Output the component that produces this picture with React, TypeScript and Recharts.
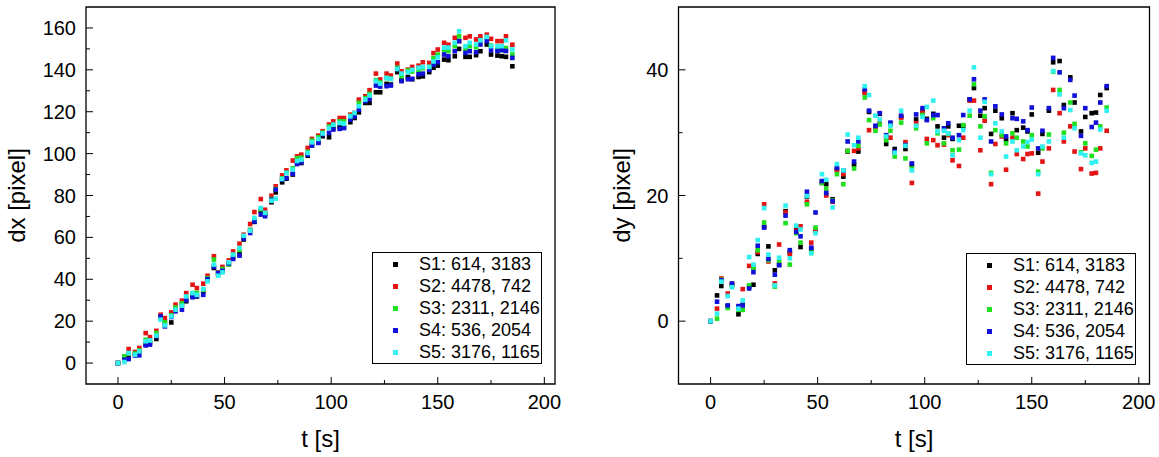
import React from 'react'
import { ScatterChart, Scatter, XAxis, YAxis, ReferenceArea, Legend, Label } from 'recharts'

const times = [0, 3, 5, 8, 10, 13, 15, 18, 20, 22, 25, 27, 30, 32, 35, 37, 40, 42, 45, 47, 49, 52, 54, 57, 59, 62, 64, 67, 69, 72, 74, 77, 79, 82, 84, 86, 89, 91, 94, 96, 99, 101, 104, 106, 109, 111, 113, 116, 118, 121, 123, 126, 128, 131, 133, 136, 138, 141, 143, 146, 148, 150, 153, 155, 158, 160, 163, 165, 168, 170, 173, 175, 178, 180, 182, 185]

const seriesNames = ['S1: 614, 3183', 'S2: 4478, 742', 'S3: 2311, 2146', 'S4: 536, 2054', 'S5: 3176, 1165']
const seriesColors = ['#000000', '#e31414', '#1fe01f', '#1010d8', '#30f0f0']

// dx [pixel]
const dxS1 = [0, 2.4, 4.0, 4.4, 5.5, 8.8, 9.5, 11.5, 22.0, 19.8, 19.4, 26.0, 28.0, 29.5, 32.2, 31.8, 34.0, 40.1, 45.4, 42.8, 44.5, 47.3, 50.5, 52.0, 59.0, 63.5, 67.4, 72.5, 71.0, 76.8, 81.5, 86.3, 88.0, 90.0, 95.9, 95.5, 99.0, 104.3, 105.5, 108.3, 107.8, 112.0, 112.8, 112.5, 115.0, 117.0, 119.7, 124.2, 124.2, 129.3, 129.3, 133.3, 133.0, 138.9, 135.0, 136.6, 135.5, 136.6, 136.9, 138.9, 141.0, 142.0, 144.9, 144.6, 146.5, 150.0, 146.2, 146.2, 147.0, 148.9, 152.1, 147.3, 146.8, 146.5, 146.2, 141.7]
const dxS2 = [0, 3.0, 6.7, 5.3, 7.2, 14.3, 12.4, 15.4, 23.1, 21.5, 24.2, 27.9, 29.8, 33.4, 37.4, 35.8, 37.9, 41.7, 51.0, 43.3, 45.9, 49.0, 53.3, 57.0, 61.3, 66.4, 72.1, 78.3, 73.2, 79.9, 84.4, 89.6, 92.0, 96.7, 98.7, 99.5, 102.7, 107.0, 108.6, 110.7, 113.9, 115.4, 117.0, 117.0, 118.6, 119.4, 125.8, 127.4, 130.3, 138.2, 135.4, 138.2, 137.3, 143.0, 139.3, 140.1, 141.4, 142.0, 143.6, 143.3, 148.0, 149.7, 152.9, 152.0, 155.3, 153.7, 155.3, 156.0, 154.5, 156.0, 156.8, 154.8, 153.7, 153.7, 156.0, 152.0]
const dxS3 = [0, 3.2, 4.5, 4.6, 6.0, 11.1, 10.5, 14.3, 21.5, 19.4, 22.8, 26.5, 28.5, 31.5, 33.4, 33.5, 35.0, 40.5, 49.4, 43.0, 44.9, 47.0, 51.5, 54.0, 60.5, 63.5, 68.0, 73.5, 71.5, 78.3, 83.0, 88.2, 90.8, 93.0, 97.8, 98.0, 100.8, 106.2, 107.8, 110.0, 112.9, 113.5, 115.4, 115.4, 118.0, 118.6, 124.2, 126.5, 128.5, 135.1, 134.0, 136.1, 135.7, 141.0, 136.9, 139.7, 139.2, 139.7, 140.8, 141.4, 145.6, 147.3, 149.4, 149.0, 151.3, 156.0, 150.0, 151.3, 150.8, 154.1, 155.3, 151.6, 149.7, 149.4, 150.4, 147.3]
const dxS4 = [0, 1.6, 1.9, 3.6, 3.7, 8.4, 8.8, 12.8, 22.3, 17.5, 22.0, 24.7, 25.5, 30.0, 31.4, 32.0, 32.6, 40.0, 46.0, 43.0, 44.0, 47.6, 49.7, 51.3, 59.4, 62.1, 67.6, 70.9, 70.1, 78.0, 82.8, 87.6, 88.3, 90.4, 95.0, 95.9, 99.5, 103.8, 105.1, 109.2, 109.9, 111.5, 111.8, 112.2, 116.2, 117.8, 121.0, 125.0, 126.0, 132.5, 132.0, 132.2, 132.5, 140.4, 134.6, 135.5, 135.7, 137.9, 138.2, 140.0, 142.5, 143.6, 147.3, 146.5, 148.9, 153.7, 148.1, 148.9, 148.4, 152.1, 153.7, 149.4, 149.0, 149.4, 149.0, 145.7]
const dxS5 = [0, 0.5, 4.8, 4.0, 5.6, 10.4, 10.8, 13.1, 20.7, 18.0, 22.3, 25.5, 27.4, 31.8, 33.4, 32.6, 35.4, 39.0, 47.0, 41.7, 43.3, 48.1, 51.8, 55.0, 60.8, 63.2, 69.3, 74.0, 71.7, 77.5, 78.5, 87.9, 90.8, 92.4, 96.5, 97.1, 100.3, 105.4, 107.0, 109.6, 112.3, 113.9, 114.6, 114.3, 117.8, 119.4, 122.6, 125.8, 127.7, 134.6, 133.4, 136.1, 135.7, 140.4, 138.2, 138.9, 140.0, 141.0, 141.4, 141.4, 144.0, 146.0, 150.6, 150.6, 152.9, 158.4, 151.3, 152.9, 152.1, 154.1, 155.7, 151.3, 151.3, 151.3, 154.1, 149.7]

// dy [pixel]
const dyS1 = [0, 4.1, 5.6, 2.4, 5.8, 1.1, 2.6, 5.5, 5.8, 10.7, 15.0, 11.9, 8.1, 9.0, 17.5, 10.9, 14.7, 11.8, 19.8, 11.5, 14.4, 22.0, 21.8, 19.4, 24.2, 23.0, 27.0, 24.9, 27.0, 36.5, 33.3, 31.0, 33.0, 28.2, 31.4, 27.4, 32.5, 27.4, 24.9, 32.1, 33.5, 32.2, 33.0, 31.0, 29.2, 31.0, 29.0, 31.1, 31.0, 35.3, 37.1, 32.7, 33.9, 29.8, 33.5, 32.3, 28.9, 33.1, 30.4, 30.8, 30.2, 32.9, 26.8, 29.8, 33.5, 41.2, 41.4, 34.4, 38.8, 34.8, 30.2, 32.5, 33.1, 33.2, 36.0, 37.1]
const dyS2 = [0, 2.0, 6.8, 4.4, 5.9, 2.2, 5.1, 8.8, 8.6, 11.0, 18.6, 9.5, 6.0, 12.2, 17.3, 10.7, 14.4, 15.1, 19.0, 12.5, 14.5, 22.2, 20.0, 19.0, 24.0, 23.4, 27.1, 27.1, 27.5, 36.3, 30.4, 30.8, 31.5, 29.1, 29.2, 26.8, 32.4, 28.5, 22.0, 31.5, 33.2, 29.0, 28.8, 28.0, 28.1, 29.6, 25.6, 24.7, 29.2, 35.1, 35.1, 27.2, 31.9, 21.8, 28.2, 29.4, 24.1, 29.2, 26.6, 25.8, 26.6, 26.7, 20.3, 25.4, 27.5, 36.8, 33.1, 28.6, 31.0, 27.0, 24.2, 27.5, 23.5, 23.6, 27.5, 30.3]
const dyS3 = [0, 0.4, 6.6, 2.1, 5.6, 1.8, 1.8, 5.7, 8.4, 11.3, 15.7, 9.7, 5.5, 9.5, 15.6, 9.0, 14.0, 12.5, 18.6, 10.9, 14.9, 22.0, 21.1, 19.2, 23.4, 21.8, 27.1, 24.3, 27.9, 35.6, 32.0, 30.3, 31.3, 28.8, 30.3, 26.2, 31.6, 25.9, 24.3, 30.7, 32.8, 28.3, 32.3, 29.9, 28.3, 29.8, 27.2, 27.3, 31.2, 32.7, 37.7, 31.0, 32.6, 23.6, 30.4, 29.6, 28.3, 29.9, 29.2, 28.6, 27.8, 29.6, 23.8, 27.5, 29.7, 39.7, 36.8, 30.0, 34.8, 31.4, 26.9, 28.3, 26.3, 27.3, 31.0, 34.0]
const dyS4 = [0, 3.1, 6.5, 2.5, 6.0, 2.4, 2.5, 5.2, 7.8, 12.0, 14.9, 9.9, 7.4, 8.9, 16.8, 11.3, 14.2, 13.5, 20.6, 11.7, 17.3, 22.3, 20.4, 19.1, 24.4, 24.0, 28.6, 25.4, 28.6, 36.9, 33.5, 31.1, 33.1, 29.6, 31.6, 27.0, 32.7, 28.0, 25.1, 32.9, 33.9, 32.0, 32.8, 32.8, 30.7, 31.5, 29.2, 29.6, 32.8, 35.3, 38.5, 33.5, 35.3, 28.6, 34.2, 32.9, 29.4, 32.3, 32.2, 31.8, 30.4, 34.0, 27.5, 30.3, 33.9, 41.9, 39.6, 33.9, 38.4, 35.9, 29.5, 33.9, 30.9, 31.6, 34.8, 37.4]
const dyS5 = [0, 1.2, 6.3, 4.0, 5.4, 2.0, 3.3, 10.2, 9.0, 12.9, 18.0, 10.6, 5.7, 10.1, 18.4, 10.0, 15.2, 14.6, 19.9, 10.8, 14.0, 23.4, 22.5, 18.1, 25.0, 24.0, 29.7, 28.0, 29.2, 37.4, 36.0, 32.7, 32.1, 29.4, 31.1, 26.8, 33.5, 27.9, 24.0, 31.1, 32.5, 34.1, 35.1, 30.2, 30.3, 29.9, 26.4, 28.8, 30.4, 33.5, 40.4, 29.2, 34.9, 23.4, 31.5, 30.2, 26.2, 28.6, 27.2, 27.8, 28.5, 28.9, 23.4, 27.8, 28.6, 39.8, 36.1, 29.2, 33.6, 30.7, 26.7, 26.4, 25.2, 25.4, 30.5, 33.5]

const xTicks = [0, 25, 50, 75, 100, 125, 150, 175, 200]
const dxTicks = [0, 10, 20, 30, 40, 50, 60, 70, 80, 90, 100, 110, 120, 130, 140, 150, 160]
const dyTicks = [0, 10, 20, 30, 40]

const FONT = '"Liberation Sans", Arial, sans-serif'

const toPoints = (vals: number[]) => times.map((t, i) => ({ t, v: vals[i] }))

const XTick = (props: any) => {
  const { x, y, payload } = props
  const major = payload.value % 50 === 0
  return (
    <g>
      <line x1={x} x2={x} y1={y} y2={y - (major ? 7 : 4)} stroke="#000" strokeWidth={1} />
      {major && (
        <text x={x} y={y + 25} textAnchor="middle" fontSize={20} fontFamily={FONT} fill="#000">
          {payload.value}
        </text>
      )}
    </g>
  )
}

const YTick = (props: any) => {
  const { x, y, payload } = props
  const major = payload.value % 20 === 0
  return (
    <g>
      <line x1={x} x2={x + (major ? 7 : 4)} y1={y} y2={y} stroke="#000" strokeWidth={1} />
      {major && (
        <text x={x - 10} y={y + 7} textAnchor="end" fontSize={20} fontFamily={FONT} fill="#000">
          {payload.value}
        </text>
      )}
    </g>
  )
}

const LegendBox = ({ payload }: any) => (
  <div
    style={{
      width: 170,
      height: 112,
      boxSizing: 'border-box',
      border: '1.3px solid #000',
      background: '#fff',
      position: 'relative',
      fontFamily: FONT,
      fontSize: 18,
    }}
  >
    {(payload || []).map((item: any, i: number) => (
      <div key={item.value} style={{ position: 'absolute', left: 0, top: 11 + i * 22 - 11, height: 22, width: '100%' }}>
        <div style={{ position: 'absolute', left: 20, top: 9, width: 4.5, height: 4.5, background: item.color }} />
        <div style={{ position: 'absolute', left: 46, top: 0, lineHeight: '22px', whiteSpace: 'nowrap', color: '#000' }}>
          {item.value}
        </div>
      </div>
    ))}
  </div>
)

interface PanelProps {
  width: number
  axisWidth: number
  rightMargin: number
  yDomain: [number, number]
  yTicks: number[]
  yTitle: string
  titleX: number
  legendLeft: number
  legendTop: number
  series: number[][]
}

function Panel({ width, axisWidth, rightMargin, yDomain, yTicks, yTitle, titleX, legendLeft, legendTop, series }: PanelProps) {
  return (
    <ScatterChart width={width} height={457} margin={{ top: 7, right: rightMargin, bottom: 0, left: 0 }}>
      <XAxis
        dataKey="t"
        type="number"
        domain={[-15, 205]}
        ticks={xTicks}
        interval={0}
        height={73}
        axisLine={false}
        tickLine={false}
        tickSize={0}
        tickMargin={0}
        tick={<XTick />}
      >
        <Label
          content={({ viewBox }: any) => (
            <text
              x={viewBox.x + viewBox.width / 2}
              y={viewBox.y + 63}
              textAnchor="middle"
              fontSize={24}
              fontFamily={FONT}
              fill="#000"
            >
              t [s]
            </text>
          )}
        />
      </XAxis>
      <YAxis
        dataKey="v"
        type="number"
        domain={yDomain}
        ticks={yTicks}
        interval={0}
        width={axisWidth}
        axisLine={false}
        tickLine={false}
        tickSize={0}
        tickMargin={0}
        tick={<YTick />}
      >
        <Label
          content={({ viewBox }: any) => {
            const cx = viewBox.x + titleX
            const cy = viewBox.y + viewBox.height / 2
            return (
              <text
                x={cx}
                y={cy}
                transform={`rotate(-90 ${cx} ${cy})`}
                textAnchor="middle"
                fontSize={24}
                fontFamily={FONT}
                fill="#000"
              >
                {yTitle}
              </text>
            )
          }}
        />
      </YAxis>
      <ReferenceArea
        x1={-15}
        x2={205}
        y1={yDomain[0]}
        y2={yDomain[1]}
        fill="none"
        stroke="#000"
        strokeWidth={1.3}
        ifOverflow="visible"
      />
      {series.map((vals, i) => (
        <Scatter
          key={seriesNames[i]}
          name={seriesNames[i]}
          data={toPoints(vals)}
          fill={seriesColors[i]}
          isAnimationActive={false}
          shape={(p: any) => (
            <rect x={p.cx - 2.3} y={p.cy - 2.3} width={4.6} height={4.6} fill={seriesColors[i]} />
          )}
        />
      ))}
      <Legend
        layout="vertical"
        align="center"
        verticalAlign="middle"
        width={170}
        height={112}
        wrapperStyle={{ left: legendLeft, top: legendTop, width: 170, height: 112 }}
        content={<LegendBox />}
      />
    </ScatterChart>
  )
}

export default function App() {
  return (
    <div style={{ position: 'fixed', left: 0, top: 0, width: 1159, height: 457, background: '#fff' }}>
      <div style={{ position: 'absolute', left: 0, top: 0 }}>
        <Panel
          width={580}
          axisWidth={86}
          rightMargin={25}
          yDomain={[-10, 170]}
          yTicks={dxTicks}
          yTitle="dx [pixel]"
          titleX={25}
          legendLeft={372}
          legendTop={252}
          series={[dxS1, dxS2, dxS3, dxS4, dxS5]}
        />
      </div>
      <div style={{ position: 'absolute', left: 580, top: 0 }}>
        <Panel
          width={579}
          axisWidth={98.5}
          rightMargin={9.5}
          yDomain={[-10, 50]}
          yTicks={dyTicks}
          yTitle="dy [pixel]"
          titleX={49.5}
          legendLeft={386}
          legendTop={253}
          series={[dyS1, dyS2, dyS3, dyS4, dyS5]}
        />
      </div>
    </div>
  )
}
